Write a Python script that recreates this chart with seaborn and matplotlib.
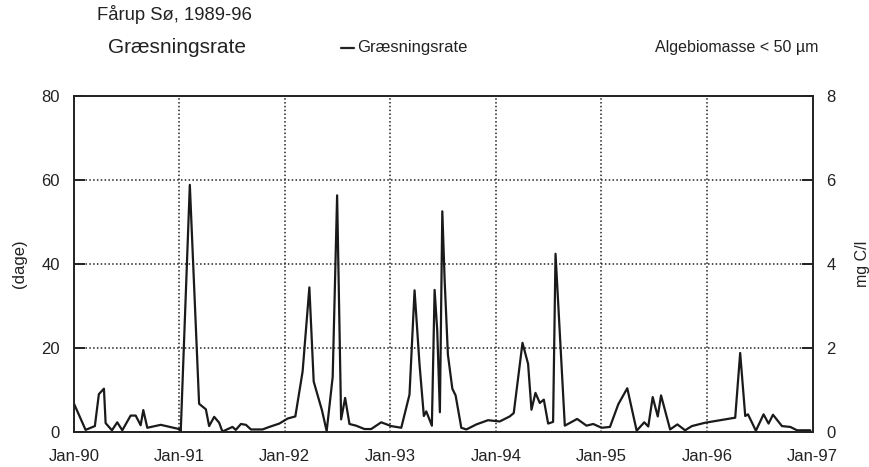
import numpy as np
import pandas as pd
import matplotlib
matplotlib.use("Agg")
import matplotlib.pyplot as plt
import seaborn as sns

# ---- data ----
# time as years since 1 Jan 1990
years_since_1990 = [
    0.000, 0.111, 0.199, 0.237, 0.285, 0.301, 0.361, 0.411, 0.459, 0.538,
    0.586, 0.633, 0.658, 0.696, 0.823, 0.997, 1.013, 1.099, 1.187, 1.251,
    1.282, 1.330, 1.377, 1.408, 1.503, 1.535, 1.583, 1.631, 1.678, 1.788,
    1.852, 1.947, 2.026, 2.099, 2.168, 2.232, 2.273, 2.320, 2.352, 2.396,
    2.453, 2.495, 2.533, 2.571, 2.612, 2.675, 2.754, 2.818, 2.913, 3.008,
    3.103, 3.181, 3.229, 3.276, 3.317, 3.340, 3.393, 3.419, 3.444, 3.469,
    3.492, 3.514, 3.545, 3.587, 3.618, 3.672, 3.720, 3.815, 3.925, 4.036,
    4.131, 4.169, 4.252, 4.305, 4.337, 4.375, 4.416, 4.454, 4.495, 4.542,
    4.565, 4.653, 4.770, 4.859, 4.922, 5.002, 5.081, 5.160, 5.245, 5.334,
    5.406, 5.444, 5.486, 5.534, 5.565, 5.651, 5.720, 5.793, 5.857, 5.983,
    6.268, 6.315, 6.363, 6.389, 6.464, 6.537, 6.584, 6.626, 6.711, 6.790,
    6.854, 6.980,
]
graesningsrate = [
    6.8, 0.5, 1.4, 9.0, 10.3, 2.1, 0.4, 2.3, 0.4, 3.9,
    3.9, 1.6, 5.2, 1.0, 1.7, 0.7, 0.2, 58.8, 6.7, 5.4,
    1.4, 3.6, 2.2, 0.1, 1.2, 0.5, 1.9, 1.7, 0.6, 0.6,
    1.2, 2.0, 3.2, 3.7, 14.4, 34.4, 12.0, 7.9, 5.1, 0.2,
    13.1, 56.3, 3.0, 8.1, 1.9, 1.5, 0.7, 0.7, 2.3, 1.4,
    1.0, 8.9, 33.7, 16.1, 3.8, 4.9, 1.5, 33.8, 24.1, 4.7,
    52.5, 36.2, 18.4, 10.3, 8.7, 1.0, 0.6, 1.8, 2.8, 2.5,
    3.7, 4.5, 21.2, 16.2, 5.3, 9.3, 6.9, 7.7, 2.0, 2.4,
    42.4, 1.5, 3.1, 1.5, 1.9, 1.0, 1.2, 6.6, 10.4, 0.3,
    2.3, 1.3, 8.3, 3.7, 8.7, 0.6, 1.8, 0.4, 1.4, 2.2,
    3.4, 18.8, 3.8, 4.2, 0.3, 4.2, 2.0, 4.1, 1.4, 1.2,
    0.4, 0.4,
]
year_ticks = ["Jan-90", "Jan-91", "Jan-92", "Jan-93", "Jan-94", "Jan-95", "Jan-96", "Jan-97"]
left_ticks = [0, 20, 40, 60, 80]
right_ticks = [0, 2, 4, 6, 8]

dates = pd.Timestamp("1990-01-01") + pd.to_timedelta(np.array(years_since_1990) * 365.25, unit="D")
df = pd.DataFrame({"date": dates, "Græsningsrate": graesningsrate})

sns.set_theme(style="white")
plt.rcParams["font.family"] = ["Liberation Sans", "DejaVu Sans"]

ink = "#222222"
fig = plt.figure(figsize=(8.69, 4.67), dpi=100)
ax = fig.add_axes([0.085, 0.075, 0.850, 0.720])

sns.lineplot(data=df, x="date", y="Græsningsrate", ax=ax, color="#1a1a1a",
             linewidth=1.6, legend=False)

tick_dates = [pd.Timestamp(f"{1990 + i}-01-01") for i in range(len(year_ticks))]
ax.set_xlim(tick_dates[0], tick_dates[-1])
ax.set_ylim(0, 80)
ax.set_xticks(tick_dates)
ax.set_xticklabels(year_ticks)
ax.set_yticks(left_ticks)
ax.set_ylabel("(dage)", fontsize=12, labelpad=10, color=ink)
ax.set_xlabel("")

ax.grid(True, color=ink, linestyle=(0, (1, 1.5)), linewidth=1.1)
for s in ax.spines.values():
    s.set_color(ink)
    s.set_linewidth(1.4)
ax.tick_params(axis="both", direction="in", length=8, width=1.4, colors=ink,
               labelsize=12, pad=10)
ax.tick_params(axis="x", pad=12)

ax2 = ax.twinx()
ax2.set_ylim(0, 8)
ax2.set_yticks(right_ticks)
ax2.tick_params(axis="y", direction="in", length=8, width=1.4, colors=ink,
                labelsize=12, pad=10)
ax2.set_ylabel("mg C/l", fontsize=11.5, labelpad=14, color=ink)
for s in ax2.spines.values():
    s.set_visible(False)

fig.text(0.112, 0.968, "Fårup Sø, 1989-96", fontsize=13.3, va="center", color=ink)
fig.text(0.124, 0.898, "Græsningsrate", fontsize=15, va="center", color=ink)
fig.lines.append(matplotlib.lines.Line2D([0.392, 0.407], [0.898, 0.898], transform=fig.transFigure,
                                         color=ink, linewidth=1.6))
fig.text(0.411, 0.898, "Græsningsrate", fontsize=12, va="center", color=ink)
fig.text(0.754, 0.898, "Algebiomasse < 50 µm", fontsize=11.5, va="center", color=ink)

fig.savefig("out.png", dpi=100)
